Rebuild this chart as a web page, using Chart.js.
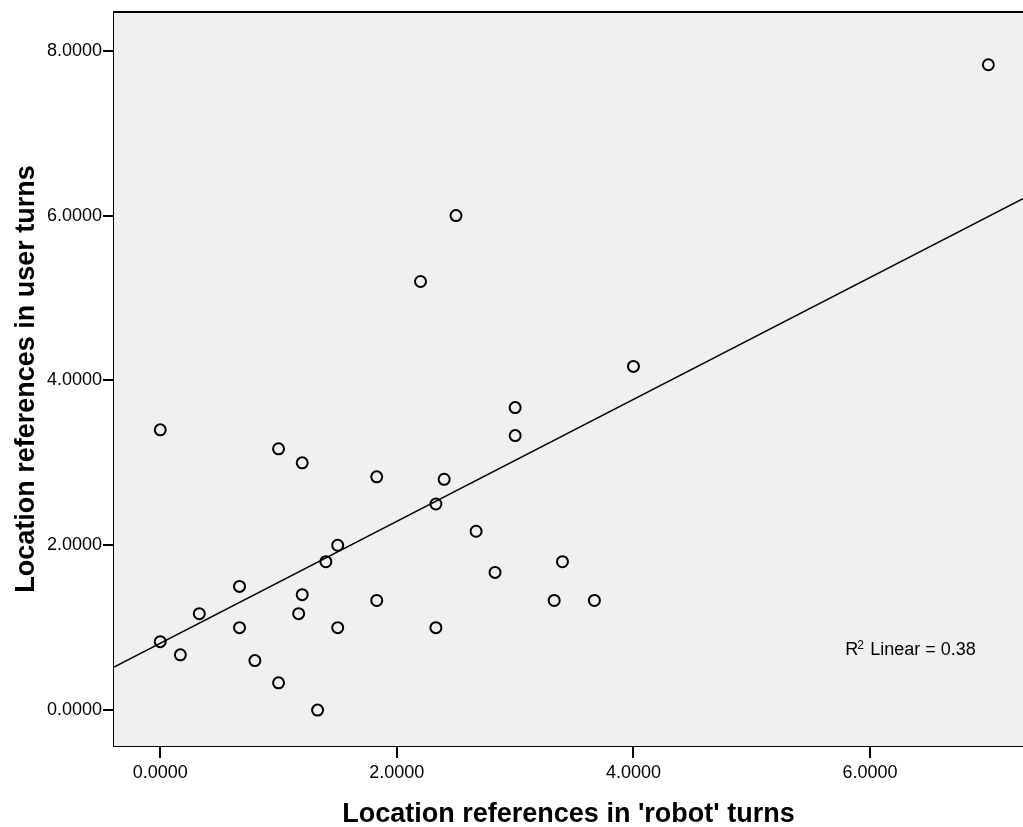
<!DOCTYPE html>
<html>
<head>
<meta charset="utf-8">
<script src="https://cdn.jsdelivr.net/npm/chart.js@4"></script>
<style>
  html, body { margin: 0; padding: 0; background: #fff; }
  #wrap { width: 1023px; height: 827px; }
</style>
</head>
<body>
<div id="wrap"><canvas id="myChart"></canvas></div>
<script>
const ctx = document.getElementById('myChart');

// location references per speaker, one entry per dialogue
const robotTurns = [7.0, 2.5, 2.2, 4.0, 3.0, 3.0, 0.0, 1.0, 1.2, 1.83, 2.4, 2.33, 2.67, 1.5, 1.4, 3.4,
    2.83, 0.67, 1.2, 0.33, 1.17, 1.83, 3.33, 3.67, 0.67, 1.5, 2.33, 0.0, 0.17, 0.8, 1.0, 1.33];
const userTurns = [7.83, 6.0, 5.2, 4.17, 3.67, 3.33, 3.4, 3.17, 3.0, 2.83, 2.8, 2.5, 2.17, 2.0, 1.8, 1.8,
    1.67, 1.5, 1.4, 1.17, 1.17, 1.33, 1.33, 1.33, 1.0, 1.0, 1.0, 0.83, 0.67, 0.6, 0.33, 0.0];
const xTicks = [0, 2, 4, 6];
const yTicks = [0, 2, 4, 6, 8];

const xMin = -0.391, xMax = 7.293;
const yMin = -0.436, yMax = 8.47;

// least squares fit for the reference line
const n = robotTurns.length;
const mx = robotTurns.reduce((a, b) => a + b, 0) / n;
const my = userTurns.reduce((a, b) => a + b, 0) / n;
let sxy = 0, sxx = 0, syy = 0;
for (let i = 0; i < n; i++) {
    sxy += (robotTurns[i] - mx) * (userTurns[i] - my);
    sxx += (robotTurns[i] - mx) ** 2;
    syy += (userTurns[i] - my) ** 2;
}
const slope = sxy / sxx;
const intercept = my - slope * mx;
const rSquared = (sxy * sxy) / (sxx * syy);

const points = robotTurns.map((x, i) => ({ x: x, y: userTurns[i] }));
const fitLine = [xMin, xMax].map(x => ({ x: x, y: intercept + slope * x }));

const FONT = '"Liberation Sans", Arial, sans-serif';

const plotFrame = {
    id: 'plotFrame',
    beforeDatasetsDraw(chart) {
        const { ctx, chartArea: a } = chart;
        ctx.save();
        ctx.fillStyle = '#f0f0f0';
        ctx.fillRect(a.left, a.top, a.right - a.left, a.bottom - a.top);
        ctx.strokeStyle = '#000';
        ctx.lineWidth = 2;
        ctx.beginPath();
        ctx.moveTo(a.left, a.top);
        ctx.lineTo(a.right, a.top);
        ctx.stroke();
        ctx.restore();
    },
    afterDraw(chart) {
        const { ctx, scales } = chart;
        ctx.save();
        ctx.fillStyle = '#000';
        ctx.textBaseline = 'alphabetic';
        const px = scales.x.getPixelForValue(5.79);
        const py = scales.y.getPixelForValue(0.67);
        ctx.font = '18px ' + FONT;
        ctx.fillText('R', px, py);
        const rw = ctx.measureText('R').width;
        ctx.font = '12px ' + FONT;
        ctx.fillText('2', px + rw - 1, py - 6);
        ctx.font = '18px ' + FONT;
        ctx.fillText(' Linear = ' + rSquared.toFixed(2), px + rw + 7, py);
        ctx.restore();
    }
};

// keep the plot box flush with the fixed axis sizes
function noEdgePadding(s) {
    s.paddingLeft = 0;
    s.paddingRight = 0;
    s.paddingTop = 0;
    s.paddingBottom = 0;
}

const myChart = new Chart(ctx, {
    type: 'scatter',
    data: {
        datasets: [
            {
                label: 'Dialogues',
                data: points,
                pointStyle: 'circle',
                pointRadius: 5.5,
                pointHoverRadius: 5.5,
                borderWidth: 2,
                borderColor: '#000',
                backgroundColor: 'rgba(0,0,0,0)'
            },
            {
                type: 'line',
                label: 'Linear fit',
                data: fitLine,
                borderColor: '#000',
                borderWidth: 1.5,
                pointRadius: 0,
                fill: false
            }
        ]
    },
    options: {
        responsive: true,
        maintainAspectRatio: false,
        animation: false,
        layout: {
            autoPadding: false,
            padding: { top: 12, right: 0, left: 0, bottom: 0 }
        },
        scales: {
            x: {
                type: 'linear',
                min: xMin,
                max: xMax,
                afterFit: s => { s.height = 81; noEdgePadding(s); },
                afterBuildTicks: s => { s.ticks = xTicks.map(v => ({ value: v })); },
                grid: {
                    drawOnChartArea: false,
                    drawTicks: true,
                    tickLength: 12,
                    color: '#000',
                    lineWidth: 2
                },
                border: { display: true, color: '#000', width: 2 },
                ticks: {
                    color: '#000',
                    padding: 4,
                    maxRotation: 0,
                    font: { family: FONT, size: 18 },
                    callback: v => v.toFixed(4)
                },
                title: {
                    display: true,
                    text: "Location references in 'robot' turns",
                    color: '#000',
                    padding: { top: 0, bottom: -1 },
                    font: { family: FONT, size: 27, weight: 'bold', lineHeight: 1 }
                }
            },
            y: {
                type: 'linear',
                min: yMin,
                max: yMax,
                afterFit: s => { s.width = 114; noEdgePadding(s); },
                afterBuildTicks: s => { s.ticks = yTicks.map(v => ({ value: v })); },
                grid: {
                    drawOnChartArea: false,
                    drawTicks: true,
                    tickLength: 11,
                    color: '#000',
                    lineWidth: 2
                },
                border: { display: true, color: '#000', width: 2 },
                ticks: {
                    color: '#000',
                    padding: 1,
                    font: { family: FONT, size: 18 },
                    callback: v => v.toFixed(4)
                },
                title: {
                    display: true,
                    text: 'Location references in user turns',
                    color: '#000',
                    padding: { top: 10, bottom: 0 },
                    font: { family: FONT, size: 27, weight: 'bold' }
                }
            }
        },
        plugins: {
            legend: { display: false },
            tooltip: { enabled: false }
        }
    },
    plugins: [plotFrame]
});
</script>
</body>
</html>
